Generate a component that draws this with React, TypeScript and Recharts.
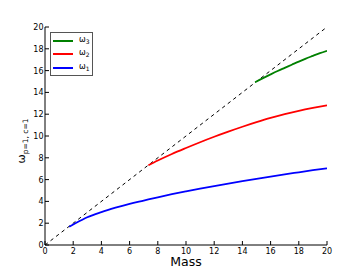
import React from 'react';
import { LineChart, Line, XAxis, YAxis } from 'recharts';

const xTicks = [0, 2, 4, 6, 8, 10, 12, 14, 16, 18, 20];
const yTicks = [0, 2, 4, 6, 8, 10, 12, 14, 16, 18, 20];

const diagM = [0, 20];
const diagW = [0, 20];

const omega1M = [1.72, 2, 3, 4, 5, 6, 7, 8, 9, 10, 11, 12, 13, 14, 15, 16, 17, 18, 19, 20];
const omega1W = [1.68, 1.88, 2.55, 3.02, 3.42, 3.78, 4.08, 4.38, 4.66, 4.92, 5.17, 5.41, 5.64, 5.86, 6.07, 6.28, 6.48, 6.67, 6.86, 7.03];

const omega2M = [7.33, 8, 9, 10, 11, 12, 13, 14, 15, 16, 17, 18, 19, 20];
const omega2W = [7.31, 7.75, 8.35, 8.9, 9.43, 9.93, 10.4, 10.85, 11.27, 11.66, 12.0, 12.3, 12.57, 12.82];

const omega3M = [14.9, 15.5, 16, 16.5, 17, 17.5, 18, 18.5, 19, 19.5, 20];
const omega3W = [14.93, 15.33, 15.65, 15.96, 16.25, 16.54, 16.83, 17.1, 17.35, 17.6, 17.82];

const seriesNames = ['3', '2', '1'];
const seriesColors = ['#008000', '#ff0000', '#0000ff'];

const toData = (m: number[], w: number[]) => m.map((v, i) => ({ m: v, w: w[i] }));

const FONT = '"DejaVu Sans", sans-serif';

const BottomTick = (props: any) => {
  const { x, y, payload } = props;
  return (
    <g>
      <line x1={x} x2={x} y1={y} y2={y - 4} stroke="#000" strokeWidth={1} />
      <text x={x} y={y + 8.5} textAnchor="middle" fontSize={8} fontFamily={FONT} fill="#000">
        {payload.value}
      </text>
    </g>
  );
};
const TopTick = (props: any) => {
  const { x, y } = props;
  return <line x1={x} x2={x} y1={y} y2={y + 4} stroke="#000" strokeWidth={1} />;
};
const LeftTick = (props: any) => {
  const { x, y, payload } = props;
  return (
    <g>
      <line x1={x} x2={x + 4} y1={y} y2={y} stroke="#000" strokeWidth={1} />
      <text x={x - 1.5} y={y + 3} textAnchor="end" fontSize={8} fontFamily={FONT} fill="#000">
        {payload.value}
      </text>
    </g>
  );
};
const RightTick = (props: any) => {
  const { x, y } = props;
  return <line x1={x} x2={x - 4} y1={y} y2={y} stroke="#000" strokeWidth={1} />;
};

const LegendBox = () => (
  <div
    style={{
      position: 'absolute',
      left: 50,
      top: 32,
      width: 43,
      height: 44,
      border: '1px solid #555',
      background: '#fff',
      boxSizing: 'border-box',
      fontFamily: FONT,
    }}
  >
    {seriesNames.map((n, i) => (
      <div key={n} style={{ position: 'absolute', left: 2, top: 2.5 + i * 13.8, height: 10, width: 40 }}>
        <div style={{ position: 'absolute', left: 0, top: 4, width: 20, height: 2, background: seriesColors[i] }} />
        <div style={{ position: 'absolute', left: 26, top: -1, fontSize: 8, lineHeight: '10px', color: '#000', whiteSpace: 'nowrap' }}>
          ω<sub style={{ fontSize: 6, verticalAlign: '-2px' }}>{n}</sub>
        </div>
      </div>
    ))}
  </div>
);

export default function App() {
  return (
    <div style={{ position: 'absolute', left: 0, top: 0, width: 363, height: 273, background: '#fff' }}>
      <LineChart width={363} height={273} margin={{ top: 27, right: 36, left: 0, bottom: 0 }}>
        <XAxis
          xAxisId="b"
          dataKey="m"
          type="number"
          domain={[0, 20]}
          ticks={xTicks}
          interval={0}
          tickSize={0}
          tickMargin={0}
          tickLine={false}
          tick={BottomTick}
          height={28}
          axisLine={{ stroke: '#000', strokeWidth: 1 }}
          allowDataOverflow
        />
        <XAxis
          xAxisId="t"
          orientation="top"
          dataKey="m"
          type="number"
          domain={[0, 20]}
          ticks={xTicks}
          interval={0}
          tickSize={0}
          tickMargin={0}
          tickLine={false}
          tick={TopTick}
          height={0}
          axisLine={{ stroke: '#000', strokeWidth: 1 }}
        />
        <YAxis
          yAxisId="l"
          type="number"
          domain={[0, 20]}
          ticks={yTicks}
          interval={0}
          tickSize={0}
          tickMargin={0}
          tickLine={false}
          tick={LeftTick}
          width={45}
          axisLine={{ stroke: '#000', strokeWidth: 1 }}
          allowDataOverflow
        />
        <YAxis
          yAxisId="r"
          orientation="right"
          type="number"
          domain={[0, 20]}
          ticks={yTicks}
          interval={0}
          tickSize={0}
          tickMargin={0}
          tickLine={false}
          tick={RightTick}
          width={0}
          axisLine={{ stroke: '#000', strokeWidth: 1 }}
        />
        <Line
          xAxisId="b"
          yAxisId="l"
          data={toData(diagM, diagW)}
          dataKey="w"
          stroke="#000"
          strokeWidth={1}
          strokeDasharray="3.5 3.5"
          dot={false}
          isAnimationActive={false}
          legendType="none"
        />
        <Line
          xAxisId="b"
          yAxisId="l"
          data={toData(omega1M, omega1W)}
          dataKey="w"
          stroke={seriesColors[2]}
          strokeWidth={1.8}
          dot={false}
          type="monotone"
          isAnimationActive={false}
        />
        <Line
          xAxisId="b"
          yAxisId="l"
          data={toData(omega2M, omega2W)}
          dataKey="w"
          stroke={seriesColors[1]}
          strokeWidth={1.8}
          dot={false}
          type="monotone"
          isAnimationActive={false}
        />
        <Line
          xAxisId="b"
          yAxisId="l"
          data={toData(omega3M, omega3W)}
          dataKey="w"
          stroke={seriesColors[0]}
          strokeWidth={1.8}
          dot={false}
          type="monotone"
          isAnimationActive={false}
        />
        <text x={186} y={266} textAnchor="middle" fontSize={12.5} fontFamily={FONT} fill="#000">
          Mass
        </text>
        <text
          transform="translate(25,141) rotate(-90)"
          textAnchor="middle"
          fontFamily={FONT}
          fill="#000"
        >
          <tspan fontSize={11}>ω</tspan>
          <tspan fontSize={7.5} dy={3}>p=1, c=1</tspan>
        </text>
      </LineChart>
      <LegendBox />
    </div>
  );
}
